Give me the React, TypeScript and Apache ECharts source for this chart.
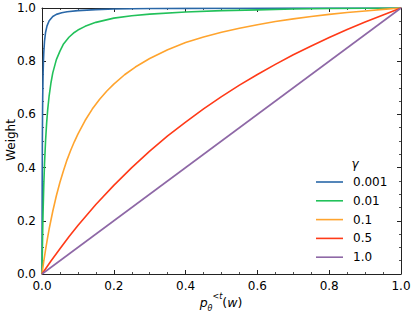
import React, { useEffect, useRef } from "react";
import * as echarts from "echarts";

const GAMMAS = ["0.001", "0.01", "0.1", "0.5", "1.0"];
const COLORS = ["#2a68a8", "#22c15a", "#ffa42e", "#ff3a18", "#8e68a6"];

const X_G0001 = [0, 0.0005, 0.001, 0.0015, 0.002, 0.003, 0.004, 0.005, 0.007, 0.01, 0.014, 0.02, 0.03, 0.04, 0.055, 0.07, 0.1, 0.15, 0.2, 0.3, 0.4, 0.55, 0.7, 0.85, 1.0];
const Y_G0001 = [0, 0.33, 0.5, 0.6, 0.667, 0.75, 0.8, 0.833, 0.875, 0.909, 0.933, 0.952, 0.968, 0.976, 0.982, 0.986, 0.99, 0.994, 0.996, 0.998, 0.9985, 0.999, 0.9995, 0.9998, 1.0];

const X_G001 = [0, 0.001, 0.002, 0.003, 0.005, 0.007, 0.01, 0.013, 0.016, 0.02, 0.025, 0.03, 0.04, 0.05, 0.06, 0.075, 0.09, 0.1, 0.12, 0.15, 0.2, 0.25, 0.3, 0.4, 0.5, 0.6, 0.7, 0.8, 0.9, 1.0];
const Y_G001 = [0, 0.09, 0.168, 0.233, 0.336, 0.414, 0.503, 0.569, 0.62, 0.671, 0.719, 0.756, 0.806, 0.838, 0.865, 0.89, 0.908, 0.917, 0.931, 0.946, 0.962, 0.971, 0.977, 0.985, 0.99, 0.993, 0.996, 0.998, 0.999, 1.0];

const X_G01 = [0, 0.005, 0.01, 0.015, 0.02, 0.03, 0.04, 0.05, 0.06, 0.07, 0.08, 0.09, 0.1, 0.12, 0.14, 0.16, 0.18, 0.2, 0.23, 0.26, 0.3, 0.35, 0.4, 0.45, 0.5, 0.55, 0.6, 0.65, 0.7, 0.75, 0.8, 0.85, 0.9, 0.95, 1.0];
const Y_G01 = [0, 0.048, 0.092, 0.132, 0.17, 0.236, 0.294, 0.345, 0.389, 0.43, 0.465, 0.497, 0.526, 0.577, 0.62, 0.656, 0.687, 0.714, 0.749, 0.778, 0.81, 0.843, 0.87, 0.891, 0.909, 0.924, 0.937, 0.949, 0.959, 0.968, 0.976, 0.983, 0.989, 0.995, 1.0];

const X_G05 = [0, 0.025, 0.05, 0.075, 0.1, 0.125, 0.15, 0.2, 0.25, 0.3, 0.35, 0.4, 0.45, 0.5, 0.55, 0.6, 0.65, 0.7, 0.75, 0.8, 0.85, 0.9, 0.95, 1.0];
const Y_G05 = [0, 0.049, 0.095, 0.14, 0.182, 0.222, 0.261, 0.333, 0.4, 0.462, 0.519, 0.571, 0.621, 0.667, 0.71, 0.75, 0.788, 0.824, 0.857, 0.889, 0.919, 0.947, 0.974, 1.0];

const X_G1 = [0, 1.0];
const Y_G1 = [0, 1.0];

const X_TICKS = [0, 0.2, 0.4, 0.6, 0.8, 1.0];

const SERIES_X = [X_G0001, X_G001, X_G01, X_G05, X_G1];
const SERIES_Y = [Y_G0001, Y_G001, Y_G01, Y_G05, Y_G1];

const FONT = "DejaVu Sans";
const LEGEND_LINE = "path://M0,0 M0,6.2 L27,6.2 L27,7.8 L0,7.8 Z M27,14";

export default function App() {
  const ref = useRef<HTMLDivElement>(null);
  useEffect(() => {
    if (!ref.current) return;
    document.body.style.margin = "0";
    const chart = echarts.init(ref.current, null, { renderer: "svg" });
    const axisCommon = {
      type: "value" as const,
      min: X_TICKS[0],
      max: X_TICKS[X_TICKS.length - 1],
      interval: 0.2,
      axisLine: { show: true, onZero: false, lineStyle: { color: "#222", width: 1 } },
      axisTick: { show: true, inside: true, length: 4, lineStyle: { color: "#222", width: 1 } },
      minorTick: { show: true, splitNumber: 4, length: 2, lineStyle: { color: "#222", width: 0.8 } },
      splitLine: { show: false },
      minorSplitLine: { show: false },
    };
    const labelStyle = {
      color: "#000",
      fontFamily: FONT,
      fontSize: 12,
      formatter: (v: number) => v.toFixed(1),
    };
    chart.setOption({
      animation: false,
      backgroundColor: "#fff",
      grid: { left: 42, right: 14, top: 8, bottom: 40, containLabel: false, outerBoundsMode: "none" },
      xAxis: [
        {
          ...axisCommon,
          position: "bottom",
          axisLabel: { ...labelStyle, margin: 6 },
        },
        {
          ...axisCommon,
          position: "top",
          axisLabel: { show: false },
        },
      ],
      yAxis: [
        {
          ...axisCommon,
          position: "left",
          axisLabel: { ...labelStyle, margin: 6 },
        },
        {
          ...axisCommon,
          position: "right",
          axisLabel: { show: false },
        },
      ],
      legend: {
        orient: "vertical",
        left: 316,
        top: 175,
        padding: 0,
        itemWidth: 27,
        itemHeight: 14,
        itemGap: 4.8,
        icon: LEGEND_LINE,
        data: GAMMAS,
        textStyle: { color: "#000", fontFamily: FONT, fontSize: 12, padding: [0, 0, 0, 5] },
      },
      graphic: [
        {
          type: "text",
          x: 355,
          y: 164,
          style: { text: "γ", font: `italic 12px "${FONT}"`, fill: "#000", align: "center", verticalAlign: "middle" },
        },
        {
          type: "text",
          x: 11,
          y: 140,
          rotation: Math.PI / 2,
          style: { text: "Weight", font: `12px "${FONT}"`, fill: "#000", align: "center", verticalAlign: "middle" },
        },
        {
          type: "text",
          x: 221,
          y: 302,
          style: {
            text: "{p|p}{sub|θ}{sup|<t}{n|(}{p|w}{n|)}",
            align: "center",
            verticalAlign: "middle",
            lineHeight: 20,
            rich: {
              p: { fontSize: 12.5, fontStyle: "italic", fontFamily: FONT, fill: "#000", lineHeight: 20, verticalAlign: "middle" },
              n: { fontSize: 12.5, fontFamily: FONT, fill: "#000", lineHeight: 20, verticalAlign: "middle" },
              sub: { fontSize: 8, fontStyle: "italic", fontFamily: FONT, fill: "#000", lineHeight: 9, verticalAlign: "bottom" },
              sup: { fontSize: 8, fontStyle: "italic", fontFamily: FONT, fill: "#000", lineHeight: 9, verticalAlign: "top" },
            },
          },
        },
      ],
      series: GAMMAS.map((g, i) => ({
        name: g,
        type: "line",
        xAxisIndex: 0,
        yAxisIndex: 0,
        symbol: "none",
        smooth: false,
        color: COLORS[i],
        lineStyle: { color: COLORS[i], width: 1.6 },
        data: SERIES_X[i].map((x, j) => [x, SERIES_Y[i][j]]),
      })),
    });
    return () => chart.dispose();
  }, []);
  return <div ref={ref} style={{ position: "fixed", left: 0, top: 0, width: 415, height: 314 }} />;
}
